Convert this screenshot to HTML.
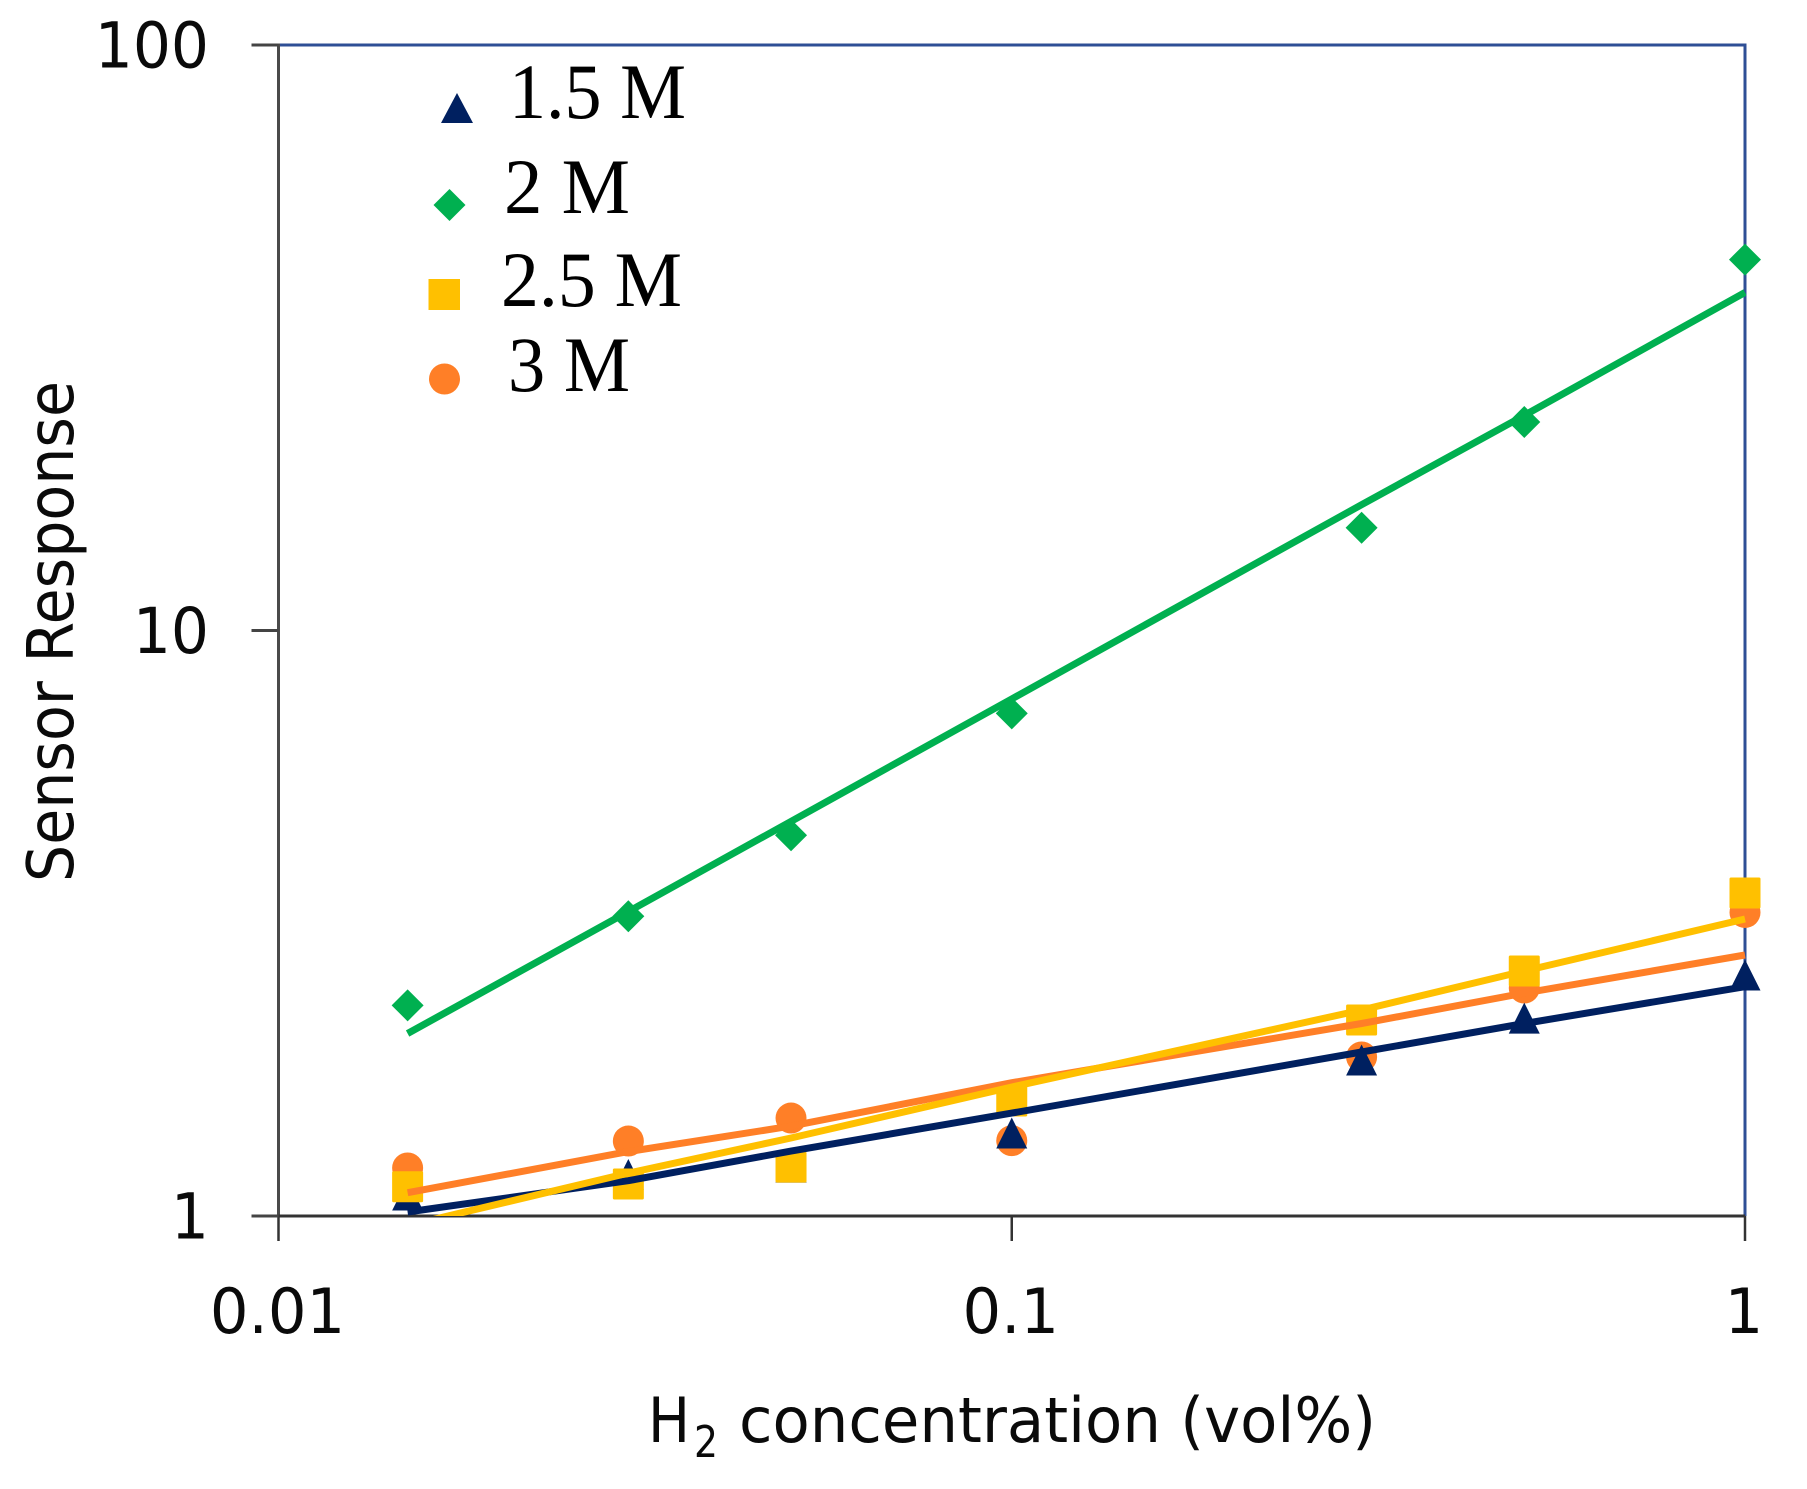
<!DOCTYPE html>
<html lang="en">
<head>
<meta charset="utf-8">
<title>Sensor Response vs H2 concentration</title>
<style>
html,body{margin:0;padding:0;background:#fff;width:1807px;height:1489px;overflow:hidden}
svg{display:block}
.tick-label,.axis-title{font-family:"DejaVu Sans","Liberation Sans",sans-serif;fill:#0a0a0a}
.legend-label{font-family:"Liberation Serif",serif;fill:#000;font-size:78px}
</style>
</head>
<body>
<svg id="chart" xmlns="http://www.w3.org/2000/svg" width="1807" height="1489" viewBox="0 0 1807 1489">
  <rect x="0" y="0" width="1807" height="1489" fill="#ffffff"/>
  <defs>
    <clipPath id="plot-clip"><rect x="278" y="45" width="1468" height="1171"/></clipPath>
  </defs>
  <g id="axes"></g>
  <g id="markers"></g>
  <g id="lines" clip-path="url(#plot-clip)"></g>
  <g id="ticklabels"></g>

  <text class="axis-title" transform="translate(73,882) rotate(-90)" font-size="64" textLength="501" lengthAdjust="spacingAndGlyphs">Sensor Response</text>
  <g>
    <text class="axis-title" x="648" y="1442" font-size="62" textLength="42" lengthAdjust="spacingAndGlyphs">H</text>
    <text class="axis-title" x="694" y="1457" font-size="44" textLength="24" lengthAdjust="spacingAndGlyphs">2</text>
    <text class="axis-title" x="739" y="1442" font-size="62" textLength="637" lengthAdjust="spacingAndGlyphs">concentration (vol%)</text>
  </g>

  <g>
    <g>
      <polygon points="457,93 473,123 441,123" fill="#002060"/>
      <text class="legend-label" x="509" y="118" textLength="177" lengthAdjust="spacingAndGlyphs">1.5 M</text>
    </g>
    <g>
      <polygon points="449.5,189 465.5,205 449.5,221 433.5,205" fill="#00B050"/>
      <text class="legend-label" x="504" y="213" textLength="126" lengthAdjust="spacingAndGlyphs">2 M</text>
    </g>
    <g>
      <rect x="428.5" y="279" width="31.5" height="31" fill="#FFC000"/>
      <text class="legend-label" x="501" y="306" textLength="181" lengthAdjust="spacingAndGlyphs">2.5 M</text>
    </g>
    <g>
      <ellipse cx="444.5" cy="379" rx="15.5" ry="15.5" fill="#FF7F27"/>
      <text class="legend-label" x="508" y="391" textLength="122" lengthAdjust="spacingAndGlyphs">3 M</text>
    </g>
  </g>
</svg>
<script>
// Data
const concentrations = [0.015, 0.03, 0.05, 0.1, 0.3, 0.5, 1];
const pointsM15 = [1.086, 1.177, 1.212, 1.386, 1.847, 2.178, 2.580];
const pointsM2 = [2.29, 3.25, 4.47, 7.22, 14.98, 22.7, 43.0];
const pointsM25 = [1.122, 1.134, 1.212, 1.572, 2.161, 2.621, 3.562];
const pointsM3 = [1.208, 1.343, 1.470, 1.345, 1.869, 2.451, 3.299];
const trendM15 = [1.016, 1.149, 1.291, 1.499, 1.906, 2.132, 2.464];
const trendM2 = [2.05, 3.31, 4.72, 7.64, 16.4, 23.3, 37.8];
const trendM25 = [0.963, 1.184, 1.359, 1.661, 2.248, 2.621, 3.216];
const trendM3 = [1.096, 1.288, 1.424, 1.689, 2.132, 2.403, 2.791];
const xTickValues = [0.01, 0.1, 1];
const xTickLabels = ["0.01", "0.1", "1"];
const yTickValues = [100, 10, 1];
const yTickLabels = ["100", "10", "1"];

// Axis functions
const PLOT = {left: 278.5, right: 1745, top: 45, bottom: 1216};
function xScale(v) {
  return PLOT.left + (Math.log10(v) - Math.log10(0.01)) / (Math.log10(1) - Math.log10(0.01)) * (PLOT.right - PLOT.left);
}
function yScale(v) {
  return PLOT.bottom - (Math.log10(v) - Math.log10(1)) / (Math.log10(100) - Math.log10(1)) * (PLOT.bottom - PLOT.top);
}

const NS = "http://www.w3.org/2000/svg";
function make(tag, parent) {
  const el = document.createElementNS(NS, tag);
  parent.appendChild(el);
  return el;
}
function segment(parent, x1, y1, x2, y2, color, width) {
  const el = make("line", parent);
  el.setAttribute("x1", x1);
  el.setAttribute("y1", y1);
  el.setAttribute("x2", x2);
  el.setAttribute("y2", y2);
  el.setAttribute("stroke", color);
  el.setAttribute("stroke-width", width);
  return el;
}

const axesG = document.getElementById("axes");
const marksG = document.getElementById("markers");
const linesG = document.getElementById("lines");
const labelsG = document.getElementById("ticklabels");

// Plot frame
const frameTop = segment(axesG, PLOT.left, PLOT.top, PLOT.right + 1.5, PLOT.top, "#2F4F96", 3);


const frameRight = segment(axesG, PLOT.right, PLOT.top, PLOT.right, PLOT.bottom, "#2F4F96", 3);


const axisY = segment(axesG, PLOT.left, PLOT.top - 1.5, PLOT.left, PLOT.bottom + 1.5, "#4a4a4a", 3);


const axisX = segment(axesG, PLOT.left, PLOT.bottom, PLOT.right, PLOT.bottom, "#333333", 3);



// Ticks and tick labels
xTickValues.forEach(function (v, i) {
  const x = xScale(v);
  const t = segment(axesG, x, PLOT.bottom, x, PLOT.bottom + 25, "#333333", 2.5);
  
  
  const lab = make("text", labelsG);
  
  
  lab.setAttribute("class", "tick-label");
  lab.setAttribute("font-size", "62");
  lab.setAttribute("text-anchor", "middle");
  lab.setAttribute("transform", "translate(" + (x - 1) + ",1333) scale(0.98,1)");
  lab.textContent = xTickLabels[i];
});
yTickValues.forEach(function (v, i) {
  const y = yScale(v);
  const t = segment(axesG, PLOT.left - 27, y, PLOT.left, y, "#444444", 3);
  
  
  const lab = make("text", labelsG);
  
  
  lab.setAttribute("class", "tick-label");
  lab.setAttribute("font-size", "63");
  lab.setAttribute("text-anchor", "end");
  lab.setAttribute("transform", "translate(209," + (y + 22.5) + ") scale(0.95,1)");
  lab.textContent = yTickLabels[i];
});

// Marker drawing
function drawMarker(shape, color, x, y) {
  let el;
  if (shape === "circle") {
    el = make("circle", marksG);
    el.setAttribute("cx", x);
    el.setAttribute("cy", y);
    el.setAttribute("r", 15.5);
  } else if (shape === "square") {
    el = make("rect", marksG);
    el.setAttribute("x", x - 15.5);
    el.setAttribute("y", y - 15.5);
    el.setAttribute("width", 31);
    el.setAttribute("height", 31);
    el.setAttribute("rx", 1.5);
  } else if (shape === "triangle") {
    el = make("polygon", marksG);
    el.setAttribute("points", x + "," + (y - 15.5) + " " + (x + 15.5) + "," + (y + 15.5) + " " + (x - 15.5) + "," + (y + 15.5));
  } else {
    el = make("polygon", marksG);
    el.setAttribute("points", x + "," + (y - 16) + " " + (x + 16) + "," + y + " " + x + "," + (y + 16) + " " + (x - 16) + "," + y);
  }
  el.setAttribute("fill", color);
  return el;
}

function drawPoints(values, shape, color, name) {
  values.forEach(function (v, i) {
    const m = drawMarker(shape, color, xScale(concentrations[i]), yScale(v));
    
    
  });
}
drawPoints(pointsM3, "circle", "#FF7F27", "point-3m");
drawPoints(pointsM15, "triangle", "#002060", "point-1-5m");
drawPoints(pointsM25, "square", "#FFC000", "point-2-5m");
drawPoints(pointsM2, "diamond", "#00B050", "point-2m");

function drawTrend(values, color, name) {
  const pl = make("polyline", linesG);
  
  
  pl.setAttribute("points", values.map(function (v, i) {
    return xScale(concentrations[i]).toFixed(1) + "," + yScale(v).toFixed(1);
  }).join(" "));
  pl.setAttribute("fill", "none");
  pl.setAttribute("stroke", color);
  pl.setAttribute("stroke-width", "7");
  pl.setAttribute("stroke-linejoin", "round");
}
drawTrend(trendM15, "#002060", "trend-line-1-5m");
drawTrend(trendM2, "#00B050", "trend-line-2m");
drawTrend(trendM3, "#FF7F27", "trend-line-3m");
drawTrend(trendM25, "#FFC000", "trend-line-2-5m");
</script>
</body>
</html>
